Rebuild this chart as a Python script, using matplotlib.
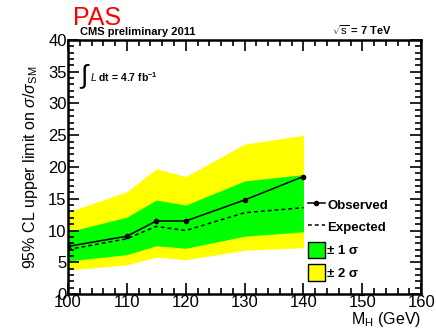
import numpy as np
import matplotlib
matplotlib.use("Agg")
import matplotlib.pyplot as plt
from matplotlib.lines import Line2D
from matplotlib.patches import Patch
from matplotlib.ticker import MultipleLocator

plt.rcParams['font.family'] = ['Liberation Sans', 'DejaVu Sans']
plt.rcParams['mathtext.fontset'] = 'custom'
plt.rcParams['mathtext.rm'] = 'Liberation Sans'
plt.rcParams['mathtext.it'] = 'Liberation Sans:italic'
plt.rcParams['mathtext.bf'] = 'Liberation Sans:bold'

# Higgs masses (GeV)
mass = [100, 110, 115, 120, 130, 140]
observed = [7.5, 9.1, 11.5, 11.5, 14.8, 18.5]
expected = [7.0, 8.7, 10.65, 10.0, 12.8, 13.6]
band1_lo = [5.2, 6.2, 7.6, 7.2, 9.1, 9.8]
band1_hi = [9.8, 12.1, 14.8, 14.0, 17.8, 18.8]
band2_lo = [3.8, 4.6, 5.8, 5.4, 6.9, 7.3]
band2_hi = [12.9, 16.1, 19.7, 18.5, 23.6, 25.0]

fig = plt.figure(figsize=(4.36, 3.30), dpi=100)
ax = fig.add_axes([0.156, 0.109, 0.810, 0.770])

ax.fill_between(mass, band2_lo, band2_hi, color='#ffff00', lw=0)
ax.fill_between(mass, band1_lo, band1_hi, color='#00ff00', lw=0)
ax.plot(mass, expected, color='black', ls=(0, (2.5, 2)), lw=1.1)
ax.plot(mass, observed, color='black', lw=1.1, marker='o', ms=3)

ax.set_xlim(100, 160)
ax.set_ylim(0, 40)
ax.xaxis.set_major_locator(MultipleLocator(10))
ax.xaxis.set_minor_locator(MultipleLocator(2))
ax.yaxis.set_major_locator(MultipleLocator(5))
ax.yaxis.set_minor_locator(MultipleLocator(1))
ax.tick_params(which='both', direction='in', top=True, right=True, width=1.2,
               labelsize=12, pad=1)
ax.tick_params(which='major', length=8)
ax.tick_params(which='minor', length=4)
for s in ax.spines.values():
    s.set_linewidth(1.8)

ax.set_ylabel(r'95% CL upper limit on $\sigma/\sigma_{\rm SM}$', fontsize=11.5, labelpad=6)
ax.set_xlabel(r'M$_{\rm H}$ (GeV)', fontsize=11.5, loc='right', labelpad=0)

fig.text(0.168, 0.925, 'PAS', color='red', fontsize=18)
ax.text(0.035, 1.01, 'CMS preliminary 2011', transform=ax.transAxes, fontsize=8,
        fontweight='bold', va='bottom')
ax.text(0.915, 1.01, r'$\sqrt{\rm s}$ = 7 TeV', transform=ax.transAxes, fontsize=8,
        fontweight='bold', va='bottom', ha='right')
ax.text(0.03, 0.855, r'$\int$', transform=ax.transAxes, fontsize=19, va='center')
ax.text(0.062, 0.855, r'$L$ dt = 4.7 fb$^{\mathbf{-1}}$', transform=ax.transAxes,
        fontsize=7.5, fontweight='bold', va='center')

handles = [
    Line2D([], [], color='black', lw=1.1, marker='o', ms=3),
    Line2D([], [], color='black', lw=1.1, ls=(0, (2.5, 2))),
    Patch(facecolor='#00ff00', edgecolor='black', lw=1),
    Patch(facecolor='#ffff00', edgecolor='black', lw=1),
]
labels = ['Observed', 'Expected', '± 1 σ', '± 2 σ']
leg = ax.legend(handles, labels, loc='upper left', bbox_to_anchor=(0.665, 0.405),
                frameon=False, fontsize=9.5, handlelength=1.25, handleheight=1.5,
                handletextpad=0.2, labelspacing=0.5, borderaxespad=0)
for t in leg.get_texts():
    t.set_fontweight('bold')

fig.savefig('out.png', dpi=100)
